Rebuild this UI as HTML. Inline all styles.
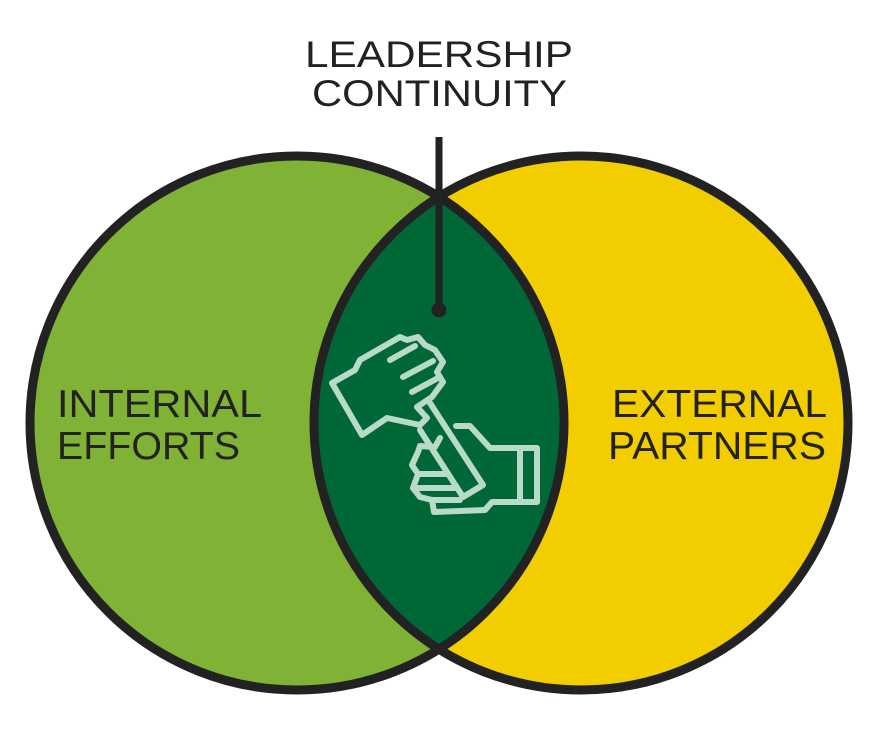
<!DOCTYPE html>
<html><head><meta charset="utf-8"><style>html,body{margin:0;padding:0;background:#fff}svg{display:block}</style></head>
<body>
<svg width="882" height="746" viewBox="0 0 882 746" xmlns="http://www.w3.org/2000/svg">
<defs><clipPath id="cl"><circle cx="297" cy="423" r="267"/></clipPath></defs>
<circle cx="297" cy="423" r="267" fill="#80b236"/>
<circle cx="581" cy="423" r="267" fill="#f2cd00"/>
<circle cx="581" cy="423" r="267" fill="#006837" clip-path="url(#cl)"/>
<circle cx="297" cy="423" r="267" fill="none" stroke="#222" stroke-width="9"/>
<circle cx="581" cy="423" r="267" fill="none" stroke="#222" stroke-width="9"/>
<line x1="439" y1="137" x2="439" y2="310" stroke="#222" stroke-width="7"/>
<circle cx="439" cy="310" r="7.5" fill="#222"/>
<g fill="none" stroke="#b9d9c9" stroke-width="6" stroke-linejoin="round" stroke-linecap="round">
<path d="M332,383 L362,435 L387,418 L420,425 L427,418 L417,407 L432,397 L443,382 L437,372 L443,362 L435,350 L425,345 L418,337 L407,340 L400,337 L360,360 L355,370 Z"/>
<path d="M390,360 L415,346 M403,377 L433,361 M412,392 L438,378"/>
<path d="M430,403 L483,485 L463,497 L420,430"/>
<path d="M456,426 L470,426 L490,448 L520,448 L537,448 L537,502 L520,502 L492,502 L485,510 L434,512 L432,500 L420,497 L413,488 L418,474 L412,465 L418,452 L420,446 L435,447 L440,438"/>
<path d="M520,448 L520,502"/>
<path d="M418,474 L448,474 M413,488 L455,488 M432,500 L460,500"/>
</g>
<g font-family="Liberation Sans, sans-serif" fill="#222">
<text x="305" y="67" font-size="37" textLength="268" lengthAdjust="spacingAndGlyphs">LEADERSHIP</text>
<text x="312" y="106" font-size="37" textLength="255" lengthAdjust="spacingAndGlyphs">CONTINUITY</text>
<text x="57" y="417" font-size="39" textLength="205" lengthAdjust="spacingAndGlyphs">INTERNAL</text>
<text x="57" y="459" font-size="39" textLength="183" lengthAdjust="spacingAndGlyphs">EFFORTS</text>
<text x="612" y="417" font-size="39" textLength="215" lengthAdjust="spacingAndGlyphs">EXTERNAL</text>
<text x="608" y="459" font-size="39" textLength="218" lengthAdjust="spacingAndGlyphs">PARTNERS</text>
</g>
</svg>
</body></html>
